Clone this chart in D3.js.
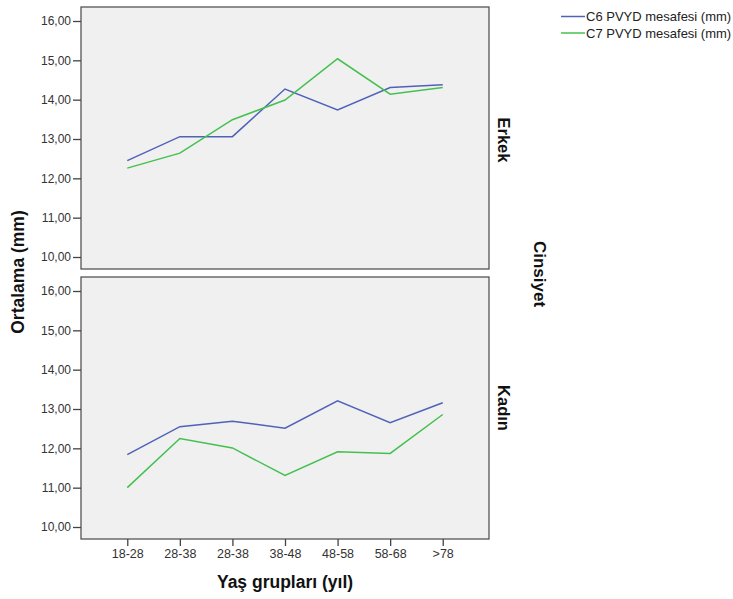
<!DOCTYPE html>
<html>
<head>
<meta charset="utf-8">
<script src="https://cdn.jsdelivr.net/npm/d3@7"></script>
<style>
  body { margin: 0; background: #fff; }
  text { font-family: Arial, "Liberation Sans", sans-serif; }
</style>
</head>
<body>
<svg id="chart" width="733" height="599"></svg>
<script>
const ageGroups = ["18-28", "28-38", "28-38 ", "38-48", "48-58", "58-68", ">78"]
const ageLabels = ["18-28", "28-38", "28-38", "38-48", "48-58", "58-68", ">78"]
const panels = ["Erkek", "Kadın"]
const seriesNames = ["C6 PVYD mesafesi (mm)", "C7 PVYD mesafesi (mm)"]
const colors = ["#4f62b8", "#44c04f"]

// mean values per panel, per series
const erkekC6 = [12.45, 13.06, 13.06, 14.27, 13.74, 14.31, 14.38]
const erkekC7 = [12.26, 12.64, 13.49, 13.99, 15.04, 14.14, 14.31]
const kadinC6 = [11.84, 12.55, 12.69, 12.51, 13.21, 12.65, 13.16]
const kadinC7 = [11.00, 12.25, 12.01, 11.31, 11.91, 11.87, 12.86]
const yTicks = [10, 11, 12, 13, 14, 15, 16]

const panelData = [[erkekC6, erkekC7], [kadinC6, kadinC7]]

const svg = d3.select("#chart")
const left = 81, right = 489
const panelTops = [7, 277], panelH = 262
const fmt = d => d3.format(".2f")(d).replace(".", ",")

const scX = d3.scalePoint().domain(ageGroups).range([left, right]).padding(0.88)

panels.forEach((name, i) => {
    const top = panelTops[i]
    const scY = d3.scaleLinear().domain([10, 16]).range([top + 250, top + 14])
    const g = svg.append("g").attr("class", "panel")

    g.append("rect")
        .attr("x", left).attr("y", top)
        .attr("width", right - left).attr("height", panelH)
        .attr("fill", "#f0f0f0").attr("stroke", "#555").attr("stroke-width", 1.3)

    const yAxis = g.append("g")
        .attr("transform", `translate(${left},0)`)
        .call(d3.axisLeft(scY).tickValues(yTicks).tickFormat(fmt).tickSize(8).tickPadding(2))
    yAxis.select(".domain").remove()
    yAxis.selectAll("line").attr("stroke", "#444").attr("stroke-width", 1.3)
    yAxis.selectAll("text").attr("font-size", 12).attr("fill", "#333")
        .style("font-family", "Arial, 'Liberation Sans', sans-serif")

    const lnMkr = d3.line().x((d, j) => scX(ageGroups[j])).y(d => scY(d))
    panelData[i].forEach((vals, k) => {
        g.append("path")
            .attr("d", lnMkr(vals))
            .attr("fill", "none")
            .attr("stroke", colors[k])
            .attr("stroke-width", 1.5)
    })

    // panel label on the right
    g.append("text")
        .attr("transform", `translate(${right + 9},${(i == 0 ? 140 : 408)}) rotate(90)`)
        .attr("text-anchor", "middle")
        .attr("font-size", 16.5).attr("font-weight", "bold").attr("fill", "#111")
        .text(name)
})

// x axis under the bottom panel
const xAxis = svg.append("g")
    .attr("transform", `translate(0,${panelTops[1] + panelH})`)
    .call(d3.axisBottom(scX).tickSize(7).tickPadding(3).tickFormat((d, i) => ageLabels[i]))
xAxis.select(".domain").remove()
xAxis.selectAll("line").attr("stroke", "#444").attr("stroke-width", 1.3)
xAxis.selectAll("text").attr("font-size", 12.5).attr("fill", "#333")
    .style("font-family", "Arial, 'Liberation Sans', sans-serif")

// axis titles
svg.append("text")
    .attr("x", 285).attr("y", 588)
    .attr("text-anchor", "middle")
    .attr("font-size", 17.5).attr("font-weight", "bold").attr("fill", "#111")
    .text("Yaş grupları (yıl)")

svg.append("text")
    .attr("transform", "translate(24,272) rotate(-90)")
    .attr("text-anchor", "middle")
    .attr("font-size", 17.5).attr("font-weight", "bold").attr("fill", "#111")
    .text("Ortalama (mm)")

svg.append("text")
    .attr("transform", "translate(534,274) rotate(90)")
    .attr("text-anchor", "middle")
    .attr("font-size", 17).attr("font-weight", "bold").attr("fill", "#111")
    .text("Cinsiyet")

// legend
const legend = svg.append("g").attr("class", "legend")
seriesNames.forEach((s, k) => {
    const y = 16.5 + k * 16.5
    legend.append("line")
        .attr("x1", 561).attr("x2", 585).attr("y1", y).attr("y2", y)
        .attr("stroke", colors[k]).attr("stroke-width", 1.5)
    legend.append("text")
        .attr("x", 586).attr("y", y + 4.5)
        .attr("font-size", 13).attr("fill", "#222")
        .text(s)
})
</script>
</body>
</html>
